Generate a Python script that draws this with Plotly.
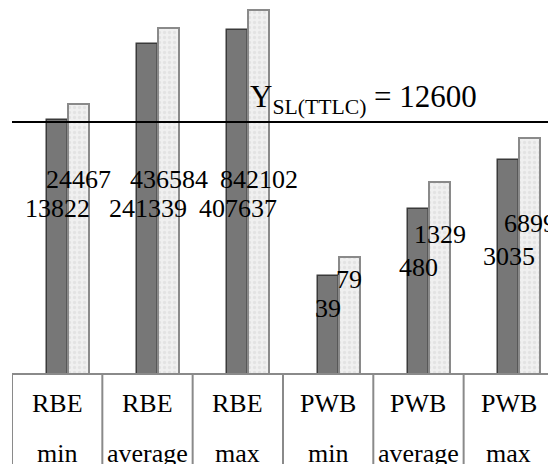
import math
import plotly.graph_objects as go

# ---- data ----
group_names = ["RBE", "RBE", "RBE", "PWB", "PWB", "PWB"]
stat_names = ["min", "average", "max", "min", "average", "max"]
series_dark = [13822, 241339, 407637, 39, 480, 3035]
series_light = [24467, 436584, 842102, 79, 1329, 6899]
threshold_value = 12600

# label heights (log10 units, as placed in the original figure)
label_pos_dark = [2.68, 2.68, 2.68, 1.06, 1.72, 1.90]
label_pos_light = [3.17, 3.17, 3.17, 1.52, 2.27, 2.44]

FONT = "Liberation Serif"
xs = list(range(len(group_names)))
BW = 0.232
OFF_D = -0.115
OFF_L = 0.117

fig = go.Figure()
fig.add_trace(go.Bar(
    x=xs, y=series_dark, width=BW, offset=OFF_D,
    marker=dict(color="#777777", line=dict(color="#3a3a3a", width=1.5)),
    showlegend=False, hoverinfo="y"))
fig.add_trace(go.Bar(
    x=xs, y=series_light, width=BW, offset=OFF_L,
    marker=dict(color="#eeeeee", line=dict(color="#8a8a8a", width=2),
                pattern=dict(shape=".", fgcolor="#d6d6d6", bgcolor="#f0f0f0",
                             size=5, solidity=0.35)),
    showlegend=False, hoverinfo="y"))

annotations = []
for i in xs:
    annotations.append(dict(x=i + OFF_D + BW / 2, y=label_pos_dark[i], xref="x", yref="y",
                            text=str(series_dark[i]), showarrow=False,
                            font=dict(family=FONT, size=26, color="black"),
                            xanchor="center", yanchor="middle"))
    annotations.append(dict(x=i + OFF_L + BW / 2, y=label_pos_light[i], xref="x", yref="y",
                            text=str(series_light[i]), showarrow=False,
                            font=dict(family=FONT, size=26, color="black"),
                            xanchor="center", yanchor="middle"))
    annotations.append(dict(x=i, y=-0.083, xref="x", yref="paper", text=group_names[i],
                            showarrow=False, font=dict(family=FONT, size=26, color="black"),
                            xanchor="center", yanchor="middle"))
    annotations.append(dict(x=i, y=-0.215, xref="x", yref="paper", text=stat_names[i],
                            showarrow=False, font=dict(family=FONT, size=26, color="black"),
                            xanchor="center", yanchor="middle"))

annotations.append(dict(x=0.44, y=math.log10(threshold_value), xref="paper", yref="y",
                        text="Y<sub>SL(TTLC)</sub> = " + str(threshold_value),
                        showarrow=False, font=dict(family=FONT, size=31, color="black"),
                        xanchor="left", yanchor="bottom", yshift=1))

shapes = [dict(type="line", xref="paper", yref="y", x0=0, x1=1,
               y0=threshold_value, y1=threshold_value,
               line=dict(color="black", width=2))]
for i in range(len(xs) + 1):
    shapes.append(dict(type="line", xref="x", yref="paper", x0=i - 0.5, x1=i - 0.5,
                       y0=0, y1=-0.3, line=dict(color="#8a8a8a", width=2)))

fig.update_layout(
    width=548, height=464,
    margin=dict(l=12, r=0, t=0, b=91),
    paper_bgcolor="white", plot_bgcolor="white",
    barmode="overlay", bargap=0,
    xaxis=dict(range=[-0.5, 5.434], showticklabels=False, ticks="", showgrid=False,
               zeroline=False, showline=True, linecolor="#8a8a8a", linewidth=2),
    yaxis=dict(type="log", range=[0, 6.095], showticklabels=False, ticks="",
               showgrid=False, zeroline=False, showline=False),
    annotations=annotations, shapes=shapes,
)

fig.write_html("out.html")
